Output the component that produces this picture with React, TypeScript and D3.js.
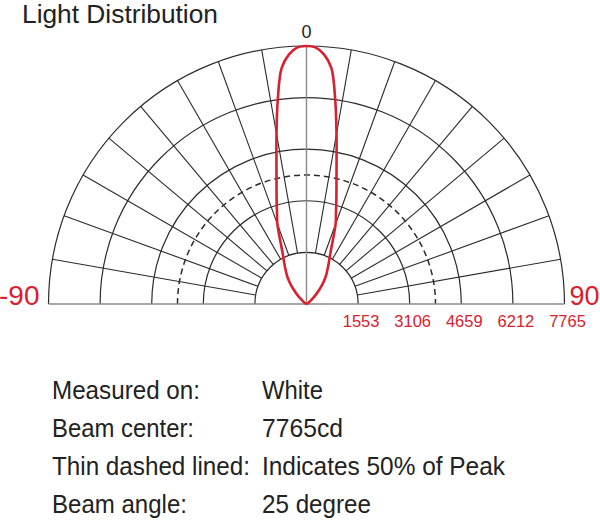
import React from "react";
import * as d3 from "d3";

// ---- data ----
const ringValues = [1553, 3106, 4659, 6212, 7765];
const peakValue = 7765;
const halfPeakFraction = 0.5;
const spokeAngles = [-80, -70, -60, -50, -40, -30, -20, -10, 10, 20, 30, 40, 50, 60, 70, 80];
const beamAngles = [-90, -70, -60, -50, -45, -40, -35, -30, -25, -20, -18, -16, -14, -12, -10, -8, -6, -4, -2, 0, 2, 4, 6, 8, 10, 12, 14, 16, 18, 20, 25, 30, 35, 40, 45, 50, 60, 70, 90];
const beamIntensity = [0, 15, 60, 200, 400, 700, 1010, 1300, 1710, 2560, 2870, 3260, 3730, 4350, 5200, 6210, 7145, 7530, 7727, 7765, 7727, 7530, 7145, 6210, 5200, 4350, 3730, 3260, 2870, 2560, 1710, 1300, 1010, 700, 400, 200, 60, 15, 0];
const axisLabels = { top: "0", left: "-90", right: "90" };
const infoKeys = ["Measured on:", "Beam center:", "Thin dashed lined:", "Beam angle:"];
const infoValues = ["White", "7765cd", "Indicates 50% of Peak", "25 degree"];
const title = "Light Distribution";

// ---- layout ----
const W = 600, H = 520;
const cx = 306.5, cy = 304;
const R = 258;
const innerR = 51.6;
const RED = "#d9202e";
const GRID = "#2b2b2b";
const FONT = "'Liberation Sans', Arial, sans-serif";
const keyWidths = [148, 142, 198, 135];
const valWidths = [61, 81, 243, 109];

export default function App() {
  const r = d3.scaleLinear().domain([0, peakValue]).range([0, R]);
  const toRad = (deg: number) => (deg * Math.PI) / 180;
  const semi = (rad: number) => {
    const p = d3.path();
    p.arc(0, 0, rad, Math.PI, 2 * Math.PI);
    return p.toString();
  };
  const beamPts: [number, number][] = beamAngles.map((a, i) => [toRad(a), r(beamIntensity[i])]);
  const beamLine = d3.lineRadial().curve(d3.curveCatmullRom.alpha(0.5))(beamPts) as string;

  const rowY = [399, 437, 475, 513];

  return (
    <svg width={W} height={H} style={{ position: "absolute", left: 0, top: 0, background: "#fff" }} fontFamily={FONT}>
      <text x={22} y={22.5} fontSize={26.5} fill="#222" textLength={196} lengthAdjust="spacingAndGlyphs">{title}</text>
      <g transform={`translate(${cx},${cy})`}>
        {spokeAngles.map((a) => {
          const t = toRad(a);
          return (
            <line key={a} x1={innerR * Math.sin(t)} y1={-innerR * Math.cos(t)} x2={R * Math.sin(t)} y2={-R * Math.cos(t)}
              stroke={GRID} strokeWidth={1.1} />
          );
        })}
        {ringValues.map((v) => (
          <path key={v} d={semi(r(v))} fill="none" stroke={GRID} strokeWidth={1.2} />
        ))}
        <path d={semi(r(peakValue * halfPeakFraction))} fill="none" stroke={GRID} strokeWidth={1.5} strokeDasharray="6,4" />
        <line x1={0} y1={0} x2={0} y2={-R} stroke="#8a8a8a" strokeWidth={1.4} />
        <line x1={-R} y1={0} x2={R} y2={0} stroke="#8a8a8a" strokeWidth={1.4} />
        <path d={beamLine} fill="none" stroke={RED} strokeWidth={2.6} strokeLinejoin="round" />
        <text x={0} y={-266} textAnchor="middle" fontSize={18} fill="#222">{axisLabels.top}</text>
        <text x={-R - 9} y={1} textAnchor="end" fontSize={28} fill={RED}>{axisLabels.left}</text>
        <text x={R + 5} y={1} textAnchor="start" fontSize={27} fill={RED}>{axisLabels.right}</text>
        {ringValues.map((v) => (
          <text key={v} x={r(v) + 3} y={23} textAnchor="middle" fontSize={16.5} fill={RED}>{v}</text>
        ))}
      </g>
      {infoKeys.map((k, i) => (
        <text key={k} x={52} y={rowY[i]} fontSize={26.5} fill="#222" textLength={keyWidths[i]} lengthAdjust="spacingAndGlyphs">{k}</text>
      ))}
      {infoValues.map((v, i) => (
        <text key={v} x={262} y={rowY[i]} fontSize={26.5} fill="#222" textLength={valWidths[i]} lengthAdjust="spacingAndGlyphs">{v}</text>
      ))}
    </svg>
  );
}
